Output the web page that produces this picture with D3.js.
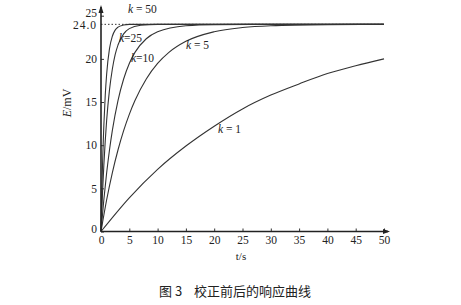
<!DOCTYPE html>
<html><head><meta charset="utf-8">
<script src="https://cdn.jsdelivr.net/npm/d3@7"></script>
<style>
html,body{margin:0;padding:0;background:#fff;}
svg{display:block;}
text{font-family:"Liberation Serif","DejaVu Serif",serif;fill:#222;}
</style></head>
<body>
<svg id="c" width="461" height="305"></svg>
<script>
// Data
const xTicks = [0,5,10,15,20,25,30,35,40,45,50];
const yTicks = [0,5,10,15,20,25];
const steadyValue = 24.0;

const t_k1  = [0,5,10,15,20,25,30,35,40,45,50];
const E_k1  = [0,3.9,7.2,9.9,12.2,14.2,15.8,17.1,18.3,19.2,20.0];

const t_k5  = [0,1,2,3,4,5,6,8,10,12,15,20,25,30,40,50];
const E_k5  = [0,3.68,6.80,9.44,11.68,13.57,15.17,17.67,19.47,20.75,22.03,23.14,23.63,23.84,23.97,24.0];

const t_k10 = [0,0.5,1,1.5,2,3,4,5,6,8,10,15,20,30,50];
const E_k10 = [0,3.68,6.80,9.44,11.68,15.17,17.67,19.47,20.75,22.33,23.14,23.84,23.97,24,24];

const t_k25 = [0,0.25,0.5,0.75,1,1.5,2,2.5,3,4,5,7,10,20,50];
const E_k25 = [0,4.2,7.66,10.5,12.9,16.4,18.8,20.5,21.6,22.9,23.5,23.9,24,24,24];

const t_k50 = [0,0.125,0.25,0.375,0.5,0.75,1,1.5,2,2.5,3,4,5,10,50];
const E_k50 = [0,3.93,7.21,9.95,12.25,15.78,18.25,21.18,22.62,23.33,23.67,23.92,24,24,24];

const series = [
  {t:t_k1, E:E_k1}, {t:t_k5, E:E_k5}, {t:t_k10, E:E_k10},
  {t:t_k25, E:E_k25}, {t:t_k50, E:E_k50}
];

const svg = d3.select("#c");
const x = d3.scaleLinear().domain([0,50]).range([101,384]);
const y = d3.scaleLinear().domain([0,25]).range([231.5,15.7]);

// dotted steady-state line
svg.append("line")
  .attr("x1", x(0)).attr("x2", x(50))
  .attr("y1", y(steadyValue)).attr("y2", y(steadyValue))
  .attr("stroke","#333").attr("stroke-width",1)
  .attr("stroke-dasharray","1.5,2");

// curves
const line = d3.line().x(d=>x(d[0])).y(d=>y(d[1])).curve(d3.curveMonotoneX);
series.forEach(s=>{
  svg.append("path")
    .attr("d", line(s.t.map((v,i)=>[v,s.E[i]])))
    .attr("fill","none").attr("stroke","#333").attr("stroke-width",1.1);
});

// axes
const xa = svg.append("g").attr("transform",`translate(0,${y(0)})`)
  .call(d3.axisBottom(x).tickValues(xTicks).tickSize(-3).tickPadding(4));
xa.select(".domain").remove();
xa.selectAll("text").style("font-size","11.5px").attr("fill","#222");
xa.selectAll("line").attr("stroke","#333");

const ya = svg.append("g").attr("transform",`translate(${x(0)},0)`)
  .call(d3.axisLeft(y).tickValues(yTicks).tickSize(-3).tickPadding(4));
ya.select(".domain").remove();
ya.selectAll("text").style("font-size","11.5px").attr("fill","#222")
  .attr("dy", d => d===0 ? "0.1em" : (d===25 ? "0.05em" : "0.32em"));
ya.selectAll("line").attr("stroke","#333");

svg.append("text").attr("x", x(0)-4).attr("y", y(steadyValue))
  .attr("dy","0.42em").attr("text-anchor","end")
  .style("font-size","11.5px").style("letter-spacing","1px").text("24.0");

// axis lines with arrows
svg.append("line").attr("x1",x(0)).attr("x2",x(0)).attr("y1",y(0)).attr("y2",7)
  .attr("stroke","#222").attr("stroke-width",1.6);
svg.append("path").attr("d",`M${x(0)-2.5},13 L${x(0)},5 L${x(0)+2.5},13 Z`).attr("fill","#222");
svg.append("line").attr("x1",x(0)).attr("x2",388).attr("y1",y(0)).attr("y2",y(0))
  .attr("stroke","#222").attr("stroke-width",1.3);
svg.append("path").attr("d",`M383,${y(0)-2.5} L390,${y(0)} L383,${y(0)+2.5} Z`).attr("fill","#222");

// curve labels
function klabel(px, py, val, spaced){
  const t = svg.append("text").attr("x",px).attr("y",py).style("font-size","11.5px");
  t.append("tspan").style("font-style","italic").text("k");
  t.append("tspan").text(spaced ? " = "+val : "="+val);
}
klabel(128, 13, "50", true);
klabel(119, 42, "25", false);
klabel(131, 62, "10", false);
klabel(186, 49, "5", true);
klabel(218, 133, "1", true);

// axis titles
const et = svg.append("text").attr("transform","translate(71,103) rotate(-90)")
  .attr("text-anchor","middle").style("font-size","12px");
et.append("tspan").style("font-style","italic").text("E");
et.append("tspan").text("/mV");
svg.append("text").attr("x",241).attr("y",260).attr("text-anchor","middle")
  .style("font-size","11px").text("t/s");

// caption
svg.append("text").attr("x",235).attr("y",296).attr("text-anchor","middle")
  .style("font-family","'Noto Sans CJK SC',sans-serif").style("font-size","13px")
  .attr("fill","#333").attr("xml:space","preserve")
  .text("图 3    校正前后的响应曲线");
</script>
</body></html>
